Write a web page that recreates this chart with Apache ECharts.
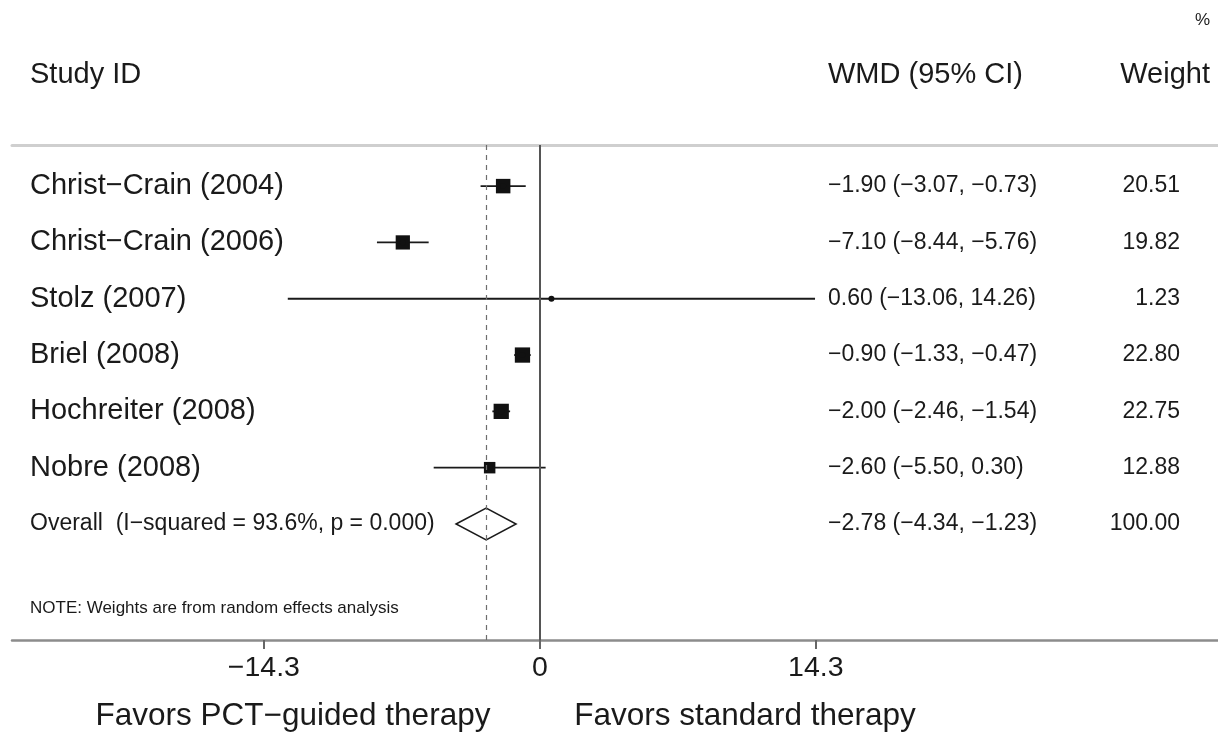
<!DOCTYPE html>
<html>
<head>
<meta charset="utf-8">
<script src="https://cdn.jsdelivr.net/npm/echarts@6/dist/echarts.min.js"></script>
<style>
  html, body { margin: 0; padding: 0; background: #fff; }
  #chart { width: 1218px; height: 734px; }
</style>
</head>
<body>
<div id="chart"></div>
<script>
// Study-level weighted mean differences with 95% confidence intervals
const studies = ['Christ−Crain (2004)', 'Christ−Crain (2006)', 'Stolz (2007)', 'Briel (2008)', 'Hochreiter (2008)', 'Nobre (2008)'];
const wmd = [-1.90, -7.10, 0.60, -0.90, -2.00, -2.60];
const ciLow = [-3.07, -8.44, -13.06, -1.33, -2.46, -5.50];
const ciHigh = [-0.73, -5.76, 14.26, -0.47, -1.54, 0.30];
const weights = [20.51, 19.82, 1.23, 22.80, 22.75, 12.88];

// Pooled (random effects) estimate
const overallLabel = 'Overall  (I−squared = 93.6%, p = 0.000)';
const overallWmd = -2.78;
const overallLow = -4.34;
const overallHigh = -1.23;
const overallWeight = 100.00;

const xTicks = [-14.3, 0, 14.3];
const noteText = 'NOTE: Weights are from random effects analysis';
const leftLabel = 'Favors PCT−guided therapy';
const rightLabel = 'Favors standard therapy';

const FONT = '"Liberation Sans", Arial, Helvetica, sans-serif';
const INK = '#1a1a1a';
const NAME_X = 30, WMD_X = 828, WEIGHT_X = 1180;

const minus = s => String(s).replace(/-/g, '−');
const fmt = v => minus(v.toFixed(2));

function textEl(text, x, y, size, align) {
  return {
    type: 'text',
    style: {
      text: text, x: x, y: y, fill: INK,
      font: size + 'px ' + FONT,
      align: align || 'left', verticalAlign: 'middle',
      textAlign: align || 'left', textVerticalAlign: 'middle'
    }
  };
}

const studyData = studies.map((s, i) => [i, wmd[i], ciLow[i], ciHigh[i], weights[i]]);
const overallRow = studies.length;

const chart = echarts.init(document.getElementById('chart'), null, { renderer: 'canvas' });

chart.setOption({
  animation: false,
  backgroundColor: '#fff',
  grid: { left: 12, right: 0, top: 145, bottom: 94 },
  xAxis: [{
    type: 'value', min: -27.35, max: 35.14, position: 'bottom',
    splitLine: { show: false },
    axisLine: { show: true, onZero: false, lineStyle: { color: '#8c8c8c', width: 2.5 } },
    axisTick: { show: true, customValues: xTicks, length: 9, lineStyle: { color: '#666', width: 2 } },
    axisLabel: {
      show: true, customValues: xTicks, margin: 14,
      fontFamily: FONT, fontSize: 28.5, color: INK,
      formatter: v => minus(v)
    }
  }, {
    type: 'value', min: -27.35, max: 35.14, position: 'top',
    splitLine: { show: false },
    axisLine: { show: true, onZero: false, lineStyle: { color: '#cfcfcf', width: 3 } },
    axisTick: { show: false },
    axisLabel: { show: false }
  }],
  yAxis: {
    type: 'value', min: -0.73, max: 8.06, inverse: true, show: false
  },
  graphic: [
    textEl('%', 1210, 20, 17, 'right'),
    textEl('Study ID', NAME_X, 75, 29, 'left'),
    textEl('WMD (95% CI)', WMD_X, 75, 29, 'left'),
    textEl('Weight', 1210, 75, 29, 'right'),
    textEl(noteText, NAME_X, 608, 17, 'left'),
    textEl(leftLabel, 293, 716, 31.5, 'center'),
    textEl(rightLabel, 745, 716, 31.5, 'center')
  ],
  series: [{
    type: 'custom',
    xAxisIndex: 0,
    data: studyData,
    silent: true,
    renderItem: function (params, api) {
      const i = api.value(0);
      const est = api.value(1), lo = api.value(2), hi = api.value(3), w = api.value(4);
      const pEst = api.coord([est, i]);
      const pLo = api.coord([lo, i]);
      const pHi = api.coord([hi, i]);
      const side = 3.2 * Math.sqrt(w);
      return {
        type: 'group',
        children: [
          { type: 'line', shape: { x1: pLo[0], y1: pEst[1], x2: pHi[0], y2: pEst[1] },
            style: { stroke: INK, lineWidth: 1.8 } },
          { type: 'rect', shape: { x: pEst[0] - side / 2, y: pEst[1] - side / 2, width: side, height: side },
            style: { fill: '#111' } },
          { type: 'circle', shape: { cx: pEst[0], cy: pEst[1], r: 3 }, style: { fill: '#111' } },
          textEl(studies[i], NAME_X, pEst[1], 29, 'left'),
          textEl(fmt(est) + ' (' + fmt(lo) + ', ' + fmt(hi) + ')', WMD_X, pEst[1], 23, 'left'),
          textEl(w.toFixed(2), WEIGHT_X, pEst[1], 23, 'right')
        ]
      };
    }
  }, {
    type: 'custom',
    xAxisIndex: 0,
    data: [[overallRow, overallWmd, overallLow, overallHigh, overallWeight]],
    silent: true,
    renderItem: function (params, api) {
      const r = api.value(0);
      const est = api.value(1), lo = api.value(2), hi = api.value(3), w = api.value(4);
      const pEst = api.coord([est, r]);
      const pLo = api.coord([lo, r]);
      const pHi = api.coord([hi, r]);
      const h = 16;
      return {
        type: 'group',
        children: [
          { type: 'polygon',
            shape: { points: [[pLo[0], pEst[1]], [pEst[0], pEst[1] - h], [pHi[0], pEst[1]], [pEst[0], pEst[1] + h]] },
            style: { fill: '#fff', stroke: INK, lineWidth: 1.5 } },
          textEl(overallLabel, NAME_X, pEst[1], 23, 'left'),
          textEl(fmt(est) + ' (' + fmt(lo) + ', ' + fmt(hi) + ')', WMD_X, pEst[1], 23, 'left'),
          textEl(w.toFixed(2), WEIGHT_X, pEst[1], 23, 'right')
        ]
      };
    },
    markLine: {
      silent: true,
      symbol: ['none', 'none'],
      label: { show: false },
      data: [
        { xAxis: 0, lineStyle: { type: 'solid', color: '#555', width: 2 } },
        { xAxis: overallWmd, lineStyle: { type: [5, 5], color: '#6e6e6e', width: 1.2 } }
      ]
    }
  }]
});
</script>
</body>
</html>
